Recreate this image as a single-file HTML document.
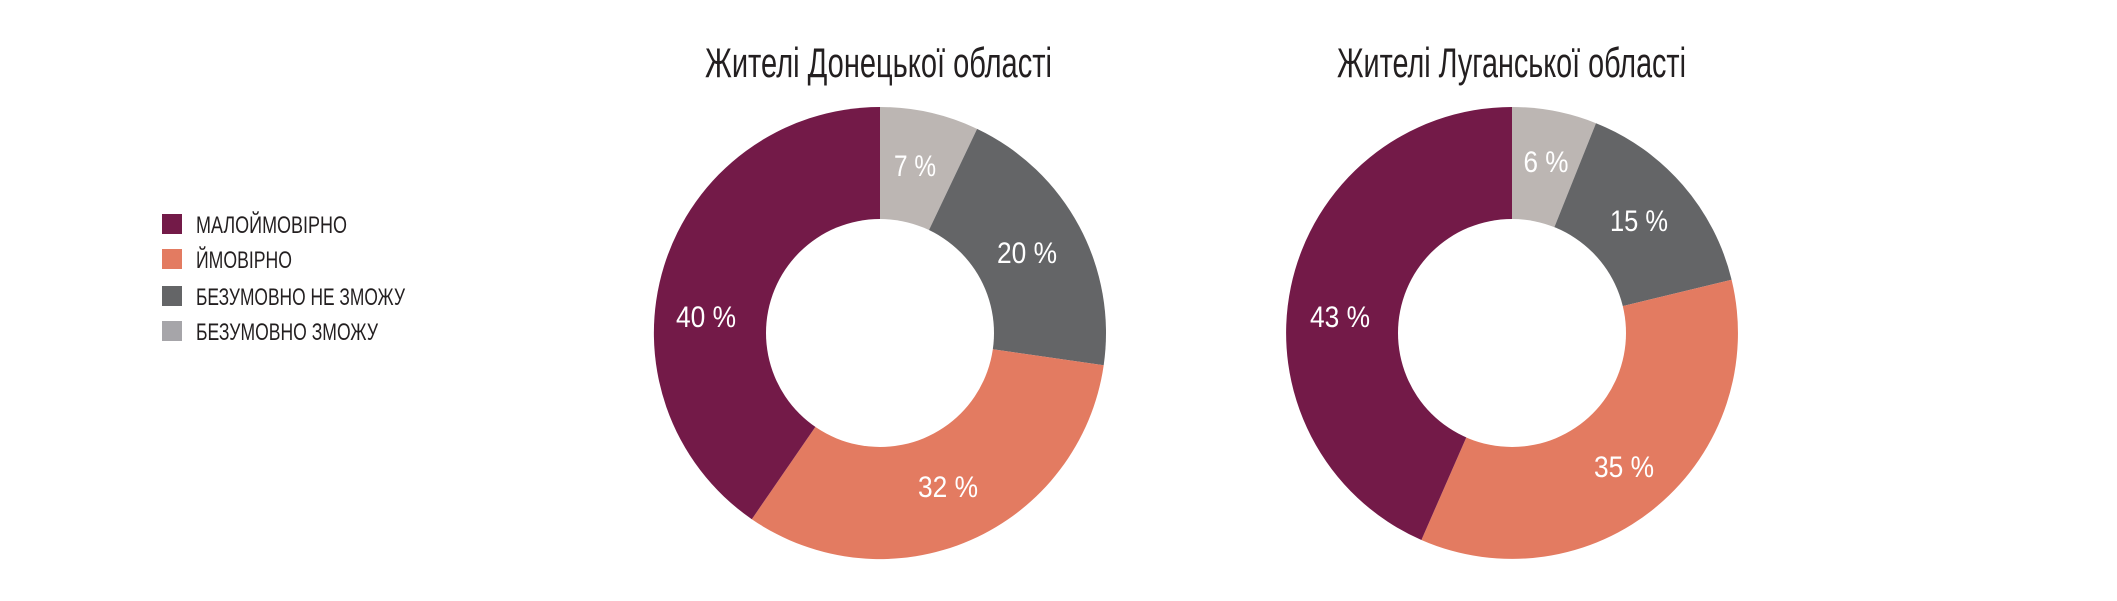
<!DOCTYPE html>
<html><head><meta charset="utf-8"><style>html,body{margin:0;padding:0;background:#fff}svg{display:block}</style></head>
<body>
<svg width="2117" height="601" viewBox="0 0 2117 601" xmlns="http://www.w3.org/2000/svg" font-family="'Liberation Sans', sans-serif">
<text x="705" y="77" font-size="42" fill="#231f20" textLength="347" lengthAdjust="spacingAndGlyphs">Жителі Донецької області</text>
<text x="1337" y="77" font-size="42" fill="#231f20" textLength="349" lengthAdjust="spacingAndGlyphs">Жителі Луганської області</text>

<rect x="162" y="214" width="20" height="20" fill="#731a48"/>
<rect x="162" y="249" width="20" height="20" fill="#e37b61"/>
<rect x="162" y="286" width="20" height="20" fill="#646567"/>
<rect x="162" y="321" width="20" height="20" fill="#a6a5a9"/>
<g font-size="24" fill="#231f20">
<text x="196" y="233" textLength="151" lengthAdjust="spacingAndGlyphs">МАЛОЙМОВІРНО</text>
<text x="196" y="268" textLength="96" lengthAdjust="spacingAndGlyphs">ЙМОВІРНО</text>
<text x="196" y="305" textLength="209" lengthAdjust="spacingAndGlyphs">БЕЗУМОВНО НЕ ЗМОЖУ</text>
<text x="196" y="340" textLength="182" lengthAdjust="spacingAndGlyphs">БЕЗУМОВНО ЗМОЖУ</text>
</g>

<path d="M880 333 L880 107 A226 226 0 0 1 977.1 128.9 Z" fill="#bcb6b3"/>
<path d="M880 333 L977.1 128.9 A226 226 0 0 1 1103.7 365.2 Z" fill="#646567"/>
<path d="M880 333 L1103.7 365.2 A226 226 0 0 1 751.8 519.2 Z" fill="#e37b61"/>
<path d="M880 333 L751.8 519.2 A226 226 0 0 1 880 107 Z" fill="#731a48"/>
<circle cx="880" cy="333" r="114" fill="#fff"/>

<path d="M1512 333 L1512 107 A226 226 0 0 1 1596 123.2 Z" fill="#bcb6b3"/>
<path d="M1512 333 L1596 123.2 A226 226 0 0 1 1731.6 279.7 Z" fill="#646567"/>
<path d="M1512 333 L1731.6 279.7 A226 226 0 0 1 1421.4 540 Z" fill="#e37b61"/>
<path d="M1512 333 L1421.4 540 A226 226 0 0 1 1512 107 Z" fill="#731a48"/>
<circle cx="1512" cy="333" r="114" fill="#fff"/>

<g font-size="30" fill="#fff" text-anchor="middle">
<text x="915" y="176" textLength="42" lengthAdjust="spacingAndGlyphs">7 %</text>
<text x="1027" y="263" textLength="60" lengthAdjust="spacingAndGlyphs">20 %</text>
<text x="706" y="327" textLength="60" lengthAdjust="spacingAndGlyphs">40 %</text>
<text x="948" y="497" textLength="60" lengthAdjust="spacingAndGlyphs">32 %</text>
<text x="1546" y="172" textLength="45" lengthAdjust="spacingAndGlyphs">6 %</text>
<text x="1639" y="231" textLength="58" lengthAdjust="spacingAndGlyphs">15 %</text>
<text x="1340" y="327" textLength="60" lengthAdjust="spacingAndGlyphs">43 %</text>
<text x="1624" y="477" textLength="60" lengthAdjust="spacingAndGlyphs">35 %</text>
</g>
</svg>
</body></html>
